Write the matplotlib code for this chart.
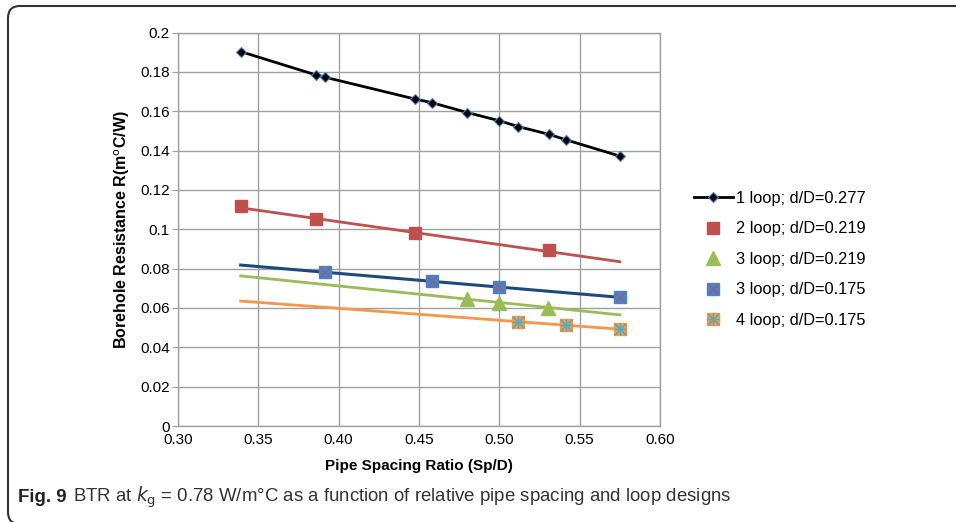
import matplotlib.pyplot as plt
import matplotlib.ticker as ticker
import matplotlib.transforms as mtransforms
from matplotlib.path import Path
from matplotlib.patches import PathPatch

plt.rcParams['font.family'] = ['Liberation Sans', 'DejaVu Sans']

# data
x_1loop = [0.339, 0.3856, 0.3914, 0.4474, 0.4578, 0.4801, 0.4998, 0.5117, 0.5307, 0.5417, 0.5749]
r_1loop = [0.1903, 0.1785, 0.1773, 0.1662, 0.1644, 0.1593, 0.1552, 0.1522, 0.1483, 0.1454, 0.1372]

x_2loop = [0.339, 0.3856, 0.4474, 0.5307]
r_2loop = [0.1120, 0.1052, 0.0982, 0.0893]

x_3loop_a = [0.4801, 0.4998, 0.5303]
r_3loop_a = [0.0645, 0.0626, 0.0602]

x_3loop_b = [0.3918, 0.4582, 0.4998, 0.5749]
r_3loop_b = [0.0784, 0.0738, 0.0708, 0.0657]

x_4loop = [0.5117, 0.5417, 0.5749]
r_4loop = [0.0529, 0.0512, 0.0492]

# trendline end points (Excel linear trendlines)
trend_x = [0.339, 0.575]
trend_2loop = [0.1109, 0.0835]
trend_3loop_a = [0.0763, 0.0565]
trend_3loop_b = [0.0818, 0.0654]
trend_4loop = [0.0635, 0.0492]

labels = ['1 loop; d/D=0.277', '2 loop; d/D=0.219', '3 loop; d/D=0.219',
          '3 loop; d/D=0.175', '4 loop; d/D=0.175']

fig = plt.figure(figsize=(9.56, 5.22), dpi=100)
ax = fig.add_axes([178 / 956, 1 - 426 / 522, 482 / 956, 393.5 / 522])

# trendlines
ax.plot(trend_x, trend_2loop, color='#C0504D', lw=2, zorder=2)
ax.plot(trend_x, trend_3loop_b, color='#1F497D', lw=2.2, zorder=2)
ax.plot(trend_x, trend_3loop_a, color='#9BBB59', lw=2, zorder=2)
ax.plot(trend_x, trend_4loop, color='#F79646', lw=2, zorder=2)

h1, = ax.plot(x_1loop, r_1loop, color='black', lw=2, marker='D', ms=5,
              mfc='black', mec='#4F81BD', mew=0.8, zorder=4)
h2, = ax.plot(x_2loop, r_2loop, ls='none', marker='s', ms=8, color='#C0504D', zorder=4)
h3, = ax.plot(x_3loop_a, r_3loop_a, ls='none', marker='^', ms=10, color='#9BBB59', zorder=4)
h4a, = ax.plot(x_3loop_b, r_3loop_b, ls='none', marker='s', ms=8, color='#4F81BD', zorder=4)
h4b, = ax.plot(x_3loop_b, r_3loop_b, ls='none', marker='x', ms=7, mew=1, color='#8064A2', zorder=5)
h5a, = ax.plot(x_4loop, r_4loop, ls='none', marker='s', ms=9, color='#F79646', zorder=4)
h5b, = ax.plot(x_4loop, r_4loop, ls='none', marker='x', ms=8, mew=1, color='#4BACC6', zorder=5)
h5c, = ax.plot(x_4loop, r_4loop, ls='none', marker='+', ms=9, mew=1, color='#4BACC6', zorder=5)

ax.set_xlim(0.30, 0.60)
ax.set_ylim(0, 0.2)
ax.xaxis.set_major_locator(ticker.MultipleLocator(0.05))
ax.xaxis.set_major_formatter(ticker.FormatStrFormatter('%.2f'))
ax.yaxis.set_major_locator(ticker.MultipleLocator(0.02))
ax.yaxis.set_major_formatter(ticker.FuncFormatter(lambda v, p: '0' if abs(v) < 1e-9 else f'{v:.2f}'.rstrip('0')))

ax.grid(True, color='#A0A0A0', lw=1)
ax.set_axisbelow(True)
for s in ax.spines.values():
    s.set_color('#A0A0A0')
    s.set_linewidth(1)
ax.tick_params(axis='y', length=4, color='#A0A0A0', labelsize=11, pad=2)
ax.tick_params(axis='x', length=0, labelsize=11, pad=5)

ax.set_xlabel('Pipe Spacing Ratio (Sp/D)', fontsize=11, fontweight='bold', labelpad=9)
ax.set_ylabel('Borehole Resistance R(m$^{\\mathrm{o}}$C/W)', fontsize=11.5,
              fontweight='bold', labelpad=6)

fig.legend([h1, h2, h3, (h4a, h4b), (h5a, h5b, h5c)], labels,
           loc='upper left', bbox_to_anchor=(679 / 956, 1 - 176 / 522),
           frameon=False, fontsize=11.8, handlelength=2.4, handletextpad=0.15,
           labelspacing=0.95)

# caption
cy = 1 - 497 / 522
t1 = fig.text(18 / 956, cy, 'Fig. 9', fontsize=13.4, fontweight='bold', va='center',
              color='#222222')
fig.canvas.draw()
bb = t1.get_window_extent()
fig.text(bb.x1 / 956 + 6 / 956, cy,
         'BTR at $k_{\\mathrm{g}}$ = 0.78 W/m°C as a function of relative pipe spacing and loop designs',
         fontsize=13.4, va='center', color='#333333')

# surrounding frame (open on the right, bottom edge just off the picture)
px = mtransforms.Affine2D().scale(1 / 956, 1 / 522) + fig.transFigure
verts = [(960, 516), (20, 516), (8, 516), (8, 504), (8, 10), (8, -2), (20, -2), (960, -2)]
codes = [Path.MOVETO, Path.LINETO, Path.CURVE3, Path.CURVE3,
         Path.LINETO, Path.CURVE3, Path.CURVE3, Path.LINETO]
fig.patches.append(PathPatch(Path(verts, codes), transform=px, fill=False,
                             ec='#333333', lw=1.5, clip_on=False))

fig.savefig('out.png', dpi=100)
